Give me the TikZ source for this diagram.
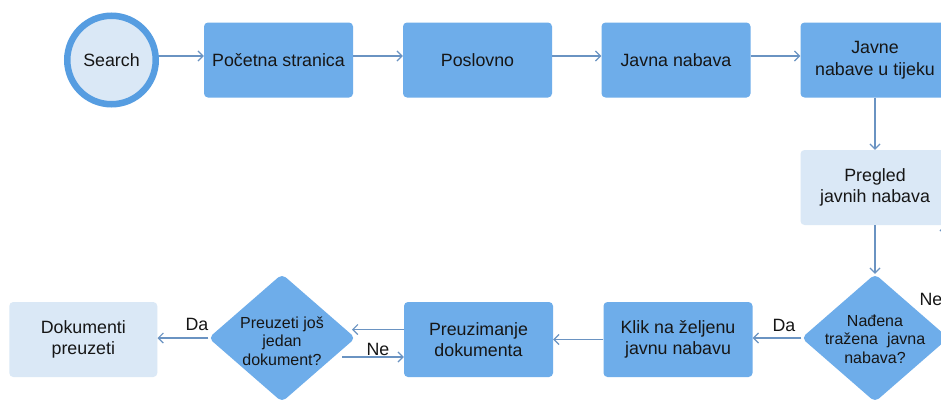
\documentclass[tikz,border=0pt]{standalone}
\usepackage{fontspec}
\setmainfont{Liberation Sans}
\usetikzlibrary{arrows.meta,shapes.geometric}
\definecolor{boxblue}{HTML}{6EADEA}
\definecolor{paleblue}{HTML}{DAE8F6}
\definecolor{ringblue}{HTML}{569DE1}
\definecolor{linecol}{HTML}{6A93C2}
\definecolor{txtcol}{HTML}{161616}
\begin{document}
\begin{tikzpicture}[x=1pt,y=-1pt,
  every node/.style={text=txtcol},
  boxfont/.style={font=\fontsize{17.8}{21.5}\selectfont},
  dbox/.style={boxfont, rectangle, rounded corners=4pt, fill=boxblue, minimum width=149pt, minimum height=75pt, align=center, inner sep=2pt},
  lbox/.style={dbox, fill=paleblue},
  decshape/.style={diamond, fill=boxblue, rounded corners=5pt, minimum width=147pt, minimum height=128pt, inner sep=0pt},
  dectext/.style={font=\fontsize{16}{18.5}\selectfont, align=center, inner sep=0pt},
  conn/.style={draw=linecol, line width=1.2pt, -{Straight Barb[length=5pt,width=10pt,line width=1.2pt]}},
  lab/.style={boxfont, inner sep=0pt}]
\useasboundingbox (0,0) rectangle (941,399);
\clip (0,0) rectangle (941,399);
\fill[white] (0,0) rectangle (941,399);

% top row
\node[circle, fill=paleblue, draw=ringblue, line width=6.5pt, minimum size=88.5pt, boxfont] (search) at (111.5,60) {Search};
\node[dbox] (poc) at (278.5,60) {Početna stranica};
\node[dbox] (pos) at (477.5,60) {Poslovno};
\node[dbox] (jav) at (676,60) {Javna nabava};
\node[dbox] (jt) at (875,60) {Javne\\nabave u tijeku};

% right column
\node[lbox] (preg) at (875,187.5) {Pregled\\javnih nabava};
\node[decshape] (nad) at (875,338) {};
\node[dectext] (nadt) at (875,339) {Nađena\\tražena\ \ javna\\nabava?};

% bottom row
\node[dbox] (klik) at (678,339.5) {Klik na željenu\\javnu nabavu};
\node[dbox] (preuz) at (478.5,339.5) {Preuzimanje\\dokumenta};
\node[decshape] (pre) at (282,338) {};
\node[dectext] (pret) at (282,341) {Preuzeti još\\jedan\\dokument?};
\node[lbox, minimum width=148pt] (dok) at (83.3,339.5) {Dokumenti\\preuzeti};

% labels
\node[lab] (daA) at (784,325) {Da};
\node[lab] (neA) at (931,299) {Ne};
\node[lab] (daB) at (197,324) {Da};
\node[lab] (neB) at (378,349) {Ne};

% connectors
\draw[conn] ([yshift=4pt]search.east) -- ([yshift=4pt]poc.west);
\draw[conn] ([yshift=4pt]poc.east) -- ([yshift=4pt]pos.west);
\draw[conn] ([yshift=4pt]pos.east) -- ([yshift=4pt]jav.west);
\draw[conn] ([yshift=4pt]jav.east) -- ([yshift=4pt]jt.west);
\draw[conn] (jt.south) -- (preg.north);
\draw[conn] (preg.south) -- (nad.north);
\draw[conn] (nad.west) -- (nad.west -| klik.east);
\draw[conn] (klik.west) -- (preuz.east);
\coordinate (preIn) at (352,329.5);
\draw[conn] (preuz.west |- preIn) -- (preIn);
\coordinate (preOut) at (342,357);
\draw[conn] (preOut) -- (preuz.west |- preOut);
\draw[conn] (pre.west) -- (pre.west -| dok.east);
\coordinate (loopA) at (990,260);
\draw[conn] (nad.east) -| (loopA) -| ([xshift=70pt]preg.south);
\end{tikzpicture}
\end{document}
